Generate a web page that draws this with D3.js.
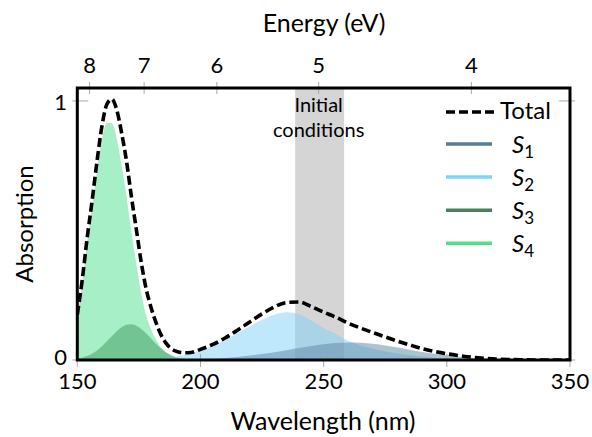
<!DOCTYPE html>
<html>
<head>
<meta charset="utf-8">
<script src="https://cdn.jsdelivr.net/npm/d3@7"></script>
<style>
  body { margin: 0; background: #fff; }
  text { font-family: Lato, "DejaVu Sans", sans-serif; fill: #000; }
</style>
</head>
<body>
<svg id="chart" width="592" height="437"></svg>
<script>
// wavelength grid (nm)
const wavelengths = [150, 152, 154, 156, 158, 160, 162, 164, 166, 168, 170, 172, 174, 176, 178, 180,
    182, 184, 186, 188, 190, 192, 194, 196, 200, 205, 210, 215, 220, 225, 230, 235, 240, 245, 250,
    255, 260, 265, 270, 275, 280, 285, 290, 295, 300, 305, 310, 315, 320, 325, 330, 335, 340, 345, 350];

const s1Values = [0, 0, 0, 0, 0, 0, 0, 0, 0, 0, 0, 0, 0, 0, 0, 0,
    0, 0, 0, 0, 0, 0, 0.001, 0.001, 0.003, 0.005, 0.008, 0.012, 0.017, 0.023, 0.030, 0.038, 0.046, 0.054, 0.061,
    0.066, 0.068, 0.067, 0.063, 0.056, 0.048, 0.040, 0.031, 0.024, 0.018, 0.013, 0.009, 0.006, 0.004, 0.002, 0.001, 0, 0, 0, 0];

const s2Values = [0, 0, 0, 0, 0, 0, 0, 0, 0, 0, 0, 0, 0, 0, 0, 0.002,
    0.003, 0.005, 0.007, 0.009, 0.012, 0.016, 0.020, 0.025, 0.037, 0.055, 0.077, 0.103, 0.130, 0.155, 0.175, 0.184, 0.178, 0.152, 0.124,
    0.099, 0.074, 0.056, 0.043, 0.033, 0.025, 0.018, 0.013, 0.009, 0.006, 0.004, 0.002, 0.001, 0, 0, 0, 0, 0, 0, 0];

const s3Values = [0.005, 0.009, 0.015, 0.024, 0.037, 0.053, 0.072, 0.092, 0.111, 0.126, 0.136, 0.138, 0.132, 0.119, 0.102, 0.082,
    0.062, 0.045, 0.030, 0.019, 0.012, 0.007, 0.004, 0.002, 0.001, 0, 0, 0, 0, 0, 0, 0, 0, 0, 0,
    0, 0, 0, 0, 0, 0, 0, 0, 0, 0, 0, 0, 0, 0, 0, 0, 0, 0, 0, 0];

const s4Values = [0.17, 0.30, 0.456, 0.59, 0.73, 0.85, 0.915, 0.915, 0.855, 0.75, 0.63, 0.49, 0.37, 0.255, 0.17, 0.117,
    0.078, 0.047, 0.028, 0.017, 0.010, 0.006, 0.003, 0.001, 0, 0, 0, 0, 0, 0, 0, 0, 0, 0, 0,
    0, 0, 0, 0, 0, 0, 0, 0, 0, 0, 0, 0, 0, 0, 0, 0, 0, 0, 0, 0];

const stateNames = ["1", "2", "3", "4"];
const stateColors = ["#557e95", "#80d2fa", "#4d7e5d", "#4fdf8d"];
const fillColors = ["#5a87a2", "#80d2fa", "#40995f", "#4fdf8d"];

const xTicks = [150, 200, 250, 300, 350];
const yTicks = [0, 1];
const energyTicks = [8, 7, 6, 5, 4];
const bandEnergy = [5.2, 4.8]; // initial conditions window, eV

const hc = 1239.84;

var margin = {left: 77.3, right: 570, top: 88, bottom: 360};

var svg = d3.select("#chart");

var x = d3.scaleLinear().domain([150, 350]).range([margin.left, margin.right]);
var y = d3.scaleLinear().domain([0, 1.05]).range([margin.bottom, margin.top]);

var series = [s1Values, s2Values, s3Values, s4Values];
var total = wavelengths.map((w, i) => s1Values[i] + s2Values[i] + s3Values[i] + s4Values[i]);

svg.append("defs").append("clipPath").attr("id", "plot-clip")
    .append("rect")
    .attr("x", margin.left).attr("y", margin.top)
    .attr("width", margin.right - margin.left)
    .attr("height", margin.bottom - margin.top);

var plot = svg.append("g").attr("clip-path", "url(#plot-clip)");

// grey band for the initial conditions
plot.append("rect")
    .attr("x", x(hc / bandEnergy[0]))
    .attr("y", margin.top)
    .attr("width", x(hc / bandEnergy[1]) - x(hc / bandEnergy[0]))
    .attr("height", margin.bottom - margin.top)
    .style("fill", "#d5d5d5");

var area = d3.area()
    .x((d, i) => x(wavelengths[i]))
    .y0(y(0))
    .y1(d => y(d))
    .curve(d3.curveMonotoneX);

// draw S4 first so the others sit over it
[3, 2, 1, 0].forEach(function (k) {
    plot.append("path")
        .datum(series[k])
        .attr("d", area)
        .style("fill", fillColors[k])
        .style("fill-opacity", 0.5);
});

var line = d3.line()
    .x((d, i) => x(wavelengths[i]))
    .y(d => y(d))
    .curve(d3.curveMonotoneX);

plot.append("path")
    .datum(total)
    .attr("d", line)
    .style("fill", "none")
    .style("stroke", "#000")
    .style("stroke-width", 3.6)
    .style("stroke-dasharray", "9 4");

// ticks (pgfplots style, grey, crossing the frame)
var ticks = svg.append("g").style("stroke", "#aaa").style("stroke-width", 1);
xTicks.forEach(function (t) {
    ticks.append("line").attr("x1", x(t)).attr("x2", x(t)).attr("y1", margin.bottom - 6).attr("y2", margin.bottom + 7);
});
energyTicks.forEach(function (e) {
    ticks.append("line").attr("x1", x(hc / e)).attr("x2", x(hc / e)).attr("y1", margin.top - 6).attr("y2", margin.top + 6);
});
yTicks.forEach(function (t) {
    ticks.append("line").attr("x1", margin.left - 5).attr("x2", margin.left + 11).attr("y1", y(t)).attr("y2", y(t));
    ticks.append("line").attr("x1", margin.right - 11).attr("x2", margin.right + 5).attr("y1", y(t)).attr("y2", y(t));
});

// frame
svg.append("rect")
    .attr("x", margin.left).attr("y", margin.top)
    .attr("width", margin.right - margin.left)
    .attr("height", margin.bottom - margin.top)
    .style("fill", "none")
    .style("stroke", "#000")
    .style("stroke-width", 3);

// tick labels
svg.selectAll(".x-label")
    .data(xTicks)
    .enter().append("text")
    .attr("x", d => x(d))
    .attr("y", 389)
    .attr("text-anchor", "middle")
    .style("font-size", "22px")
    .text(d => d);

svg.selectAll(".e-label")
    .data(energyTicks)
    .enter().append("text")
    .attr("x", d => x(hc / d))
    .attr("y", 73)
    .attr("text-anchor", "middle")
    .style("font-size", "22px")
    .text(d => d);

svg.selectAll(".y-label")
    .data(yTicks)
    .enter().append("text")
    .attr("x", 67)
    .attr("y", d => y(d) + (d == 0 ? 5 : 9))
    .attr("text-anchor", "end")
    .style("font-size", "22px")
    .text(d => d);

// axis titles
svg.append("text")
    .attr("x", 323).attr("y", 430)
    .attr("text-anchor", "middle")
    .style("font-size", "25px")
    .text("Wavelength (nm)");

svg.append("text")
    .attr("x", 324).attr("y", 32)
    .attr("text-anchor", "middle")
    .style("font-size", "25px")
    .text("Energy (eV)");

svg.append("text")
    .attr("transform", "translate(33, 224) rotate(-90)")
    .attr("text-anchor", "middle")
    .style("font-size", "24px")
    .text("Absorption");

// annotation
var note = svg.append("text")
    .attr("text-anchor", "middle")
    .style("font-size", "20px");
note.append("tspan").attr("x", x(hc / 5)).attr("y", 112).text("Initial");
note.append("tspan").attr("x", x(hc / 5)).attr("y", 137).text("conditions");

// legend
var legend = svg.append("g");
legend.append("line")
    .attr("x1", 446).attr("x2", 498).attr("y1", 112).attr("y2", 112)
    .style("stroke", "#000")
    .style("stroke-width", 3.6)
    .style("stroke-dasharray", "9 4");
legend.append("text")
    .attr("x", 500).attr("y", 119)
    .style("font-size", "24px")
    .text("Total");

stateNames.forEach(function (n, i) {
    var ly = 144 + i * 33.1;
    legend.append("line")
        .attr("x1", 446).attr("x2", 492).attr("y1", ly).attr("y2", ly)
        .style("stroke", stateColors[i])
        .style("stroke-width", 3.5);
    var t = legend.append("text")
        .attr("x", 512).attr("y", ly + 9)
        .style("font-size", "24px");
    t.append("tspan").style("font-style", "italic").text("S");
    t.append("tspan").attr("dy", 5).style("font-size", "17px").text(n);
});
</script>
</body>
</html>
